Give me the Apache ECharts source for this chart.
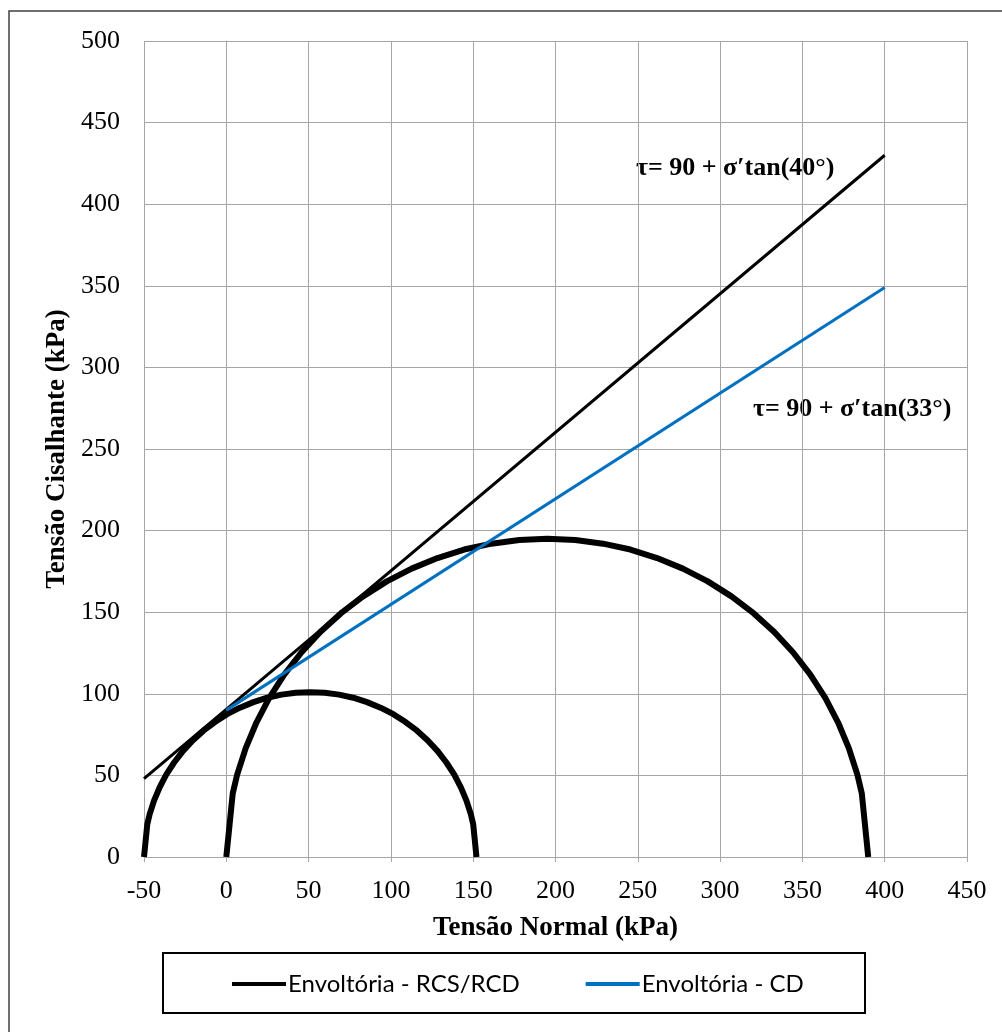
<!DOCTYPE html>
<html>
<head>
<meta charset="utf-8">
<script src="https://cdn.jsdelivr.net/npm/echarts@6/dist/echarts.min.js"></script>
<style>
  html, body { margin: 0; padding: 0; background: #fff; }
  #chart { width: 1002px; height: 1032px; }
</style>
</head>
<body>
<div id="chart"></div>
<script>
// envoltorias (sigma, tau) em kPa
var envoltoriaRCS = [[-50, 48], [400, 430]];
var envoltoriaCD = [[0, 90], [400, 349]];

// circulos de Mohr
var circulo1 = [
  [-50, 0], [-48.0, 20.1], [-46.6, 26.1], [-43.9, 34.5], [-40.5, 42.7], [-36.5, 50.5],
  [-31.7, 57.9], [-26.4, 64.9], [-20.4, 71.4], [-13.9, 77.4], [-6.9, 82.7], [0.5, 87.5],
  [8.3, 91.5], [16.5, 94.9], [24.9, 97.6], [33.5, 99.5], [42.2, 100.6], [51, 101],
  [59.8, 100.6], [68.5, 99.5], [77.1, 97.6], [85.5, 94.9], [93.7, 91.5], [101.5, 87.5],
  [108.9, 82.7], [115.9, 77.4], [122.4, 71.4], [128.4, 64.9], [133.7, 57.9], [138.5, 50.5],
  [142.5, 42.7], [145.9, 34.5], [148.6, 26.1], [150.0, 20.1], [152, 0]
];
var circulo2 = [
  [0, 0], [3.9, 38.9], [6.6, 50.5], [11.8, 66.7], [18.3, 82.4], [26.1, 97.5],
  [35.3, 111.9], [45.6, 125.3], [57.1, 137.9], [69.7, 149.4], [83.1, 159.7], [97.5, 168.9],
  [112.6, 176.7], [128.3, 183.2], [144.5, 188.4], [161.1, 192.0], [178.0, 194.3], [195, 195],
  [212.0, 194.3], [228.9, 192.0], [245.5, 188.4], [261.7, 183.2], [277.4, 176.7], [292.5, 168.9],
  [306.9, 159.7], [320.3, 149.4], [332.9, 137.9], [344.4, 125.3], [354.7, 111.9], [363.9, 97.5],
  [371.7, 82.4], [378.2, 66.7], [383.4, 50.5], [386.1, 38.9], [390, 0]
];

var nomesLegenda = ['Envoltória - RCS/RCD', 'Envoltória - CD'];
var equacoes = ['τ= 90 + σ′tan(40°)', 'τ= 90 + σ′tan(33°)'];

var serif = '"Liberation Serif", "Times New Roman", serif';
var cinza = '#a6a6a6';

var chartDom = document.getElementById('chart');
var myChart = echarts.init(chartDom);
var option;

option = {
  backgroundColor: '#fff',
  animation: false,
  grid: { left: 144, top: 41, width: 823, height: 816 },
  xAxis: {
    type: 'value',
    min: -50, max: 450, interval: 50,
    name: 'Tensão Normal (kPa)',
    nameLocation: 'middle',
    nameGap: 58,
    nameTextStyle: { fontFamily: serif, fontWeight: 'bold', fontSize: 27, color: '#000' },
    axisLine: { onZero: false, lineStyle: { color: cinza, width: 1 } },
    axisTick: { show: true, length: 5, lineStyle: { color: cinza } },
    axisLabel: { fontFamily: serif, fontSize: 26, color: '#000', margin: 21 },
    splitLine: { show: true, lineStyle: { color: cinza, width: 1 } }
  },
  yAxis: {
    type: 'value',
    min: 0, max: 500, interval: 50,
    name: 'Tensão Cisalhante (kPa)',
    nameLocation: 'middle',
    nameGap: 72,
    nameTextStyle: { fontFamily: serif, fontWeight: 'bold', fontSize: 27, color: '#000' },
    axisLine: { show: true, lineStyle: { color: cinza, width: 1 } },
    axisTick: { show: false },
    axisLabel: { fontFamily: serif, fontSize: 26, color: '#000', margin: 24 },
    splitLine: { show: true, lineStyle: { color: cinza, width: 1 } }
  },
  legend: {
    data: nomesLegenda,
    left: 232, top: 972,
    padding: 0,
    icon: 'rect',
    itemWidth: 54, itemHeight: 4,
    itemGap: 66,
    textStyle: { fontFamily: 'Lato, "Open Sans", sans-serif', fontSize: 24, color: '#000', padding: [0, 0, 0, -3] }
  },
  series: [
    {
      name: 'circulo1', type: 'line', data: circulo1, showSymbol: false, smooth: false,
      lineStyle: { color: '#000', width: 6, join: 'round' }, itemStyle: { color: '#000' }, z: 2
    },
    {
      name: 'circulo2', type: 'line', data: circulo2, showSymbol: false, smooth: false,
      lineStyle: { color: '#000', width: 6, join: 'round' }, itemStyle: { color: '#000' }, z: 2
    },
    {
      name: nomesLegenda[0], type: 'line', data: envoltoriaRCS, showSymbol: false,
      lineStyle: { color: '#000', width: 3 }, itemStyle: { color: '#000' }, z: 3
    },
    {
      name: nomesLegenda[1], type: 'line', data: envoltoriaCD, showSymbol: false,
      lineStyle: { color: '#0070C0', width: 3 }, itemStyle: { color: '#0070C0' }, z: 4
    }
  ],
  graphic: [
    {
      type: 'rect', silent: true, z: 0,
      shape: { x: 9, y: 11, width: 1000, height: 1030 },
      style: { fill: 'none', stroke: '#404040', lineWidth: 1.5 }
    },
    {
      type: 'rect', silent: true,
      shape: { x: 163, y: 953, width: 702, height: 60 },
      style: { fill: 'none', stroke: '#000', lineWidth: 2 }
    },
    {
      type: 'text', silent: true, x: 636, y: 168,
      style: { text: equacoes[0], font: 'bold 26px ' + serif, fill: '#000', verticalAlign: 'middle' }
    },
    {
      type: 'text', silent: true, x: 753, y: 409,
      style: { text: equacoes[1], font: 'bold 26px ' + serif, fill: '#000', verticalAlign: 'middle' }
    }
  ]
};

option && myChart.setOption(option);
</script>
</body>
</html>
